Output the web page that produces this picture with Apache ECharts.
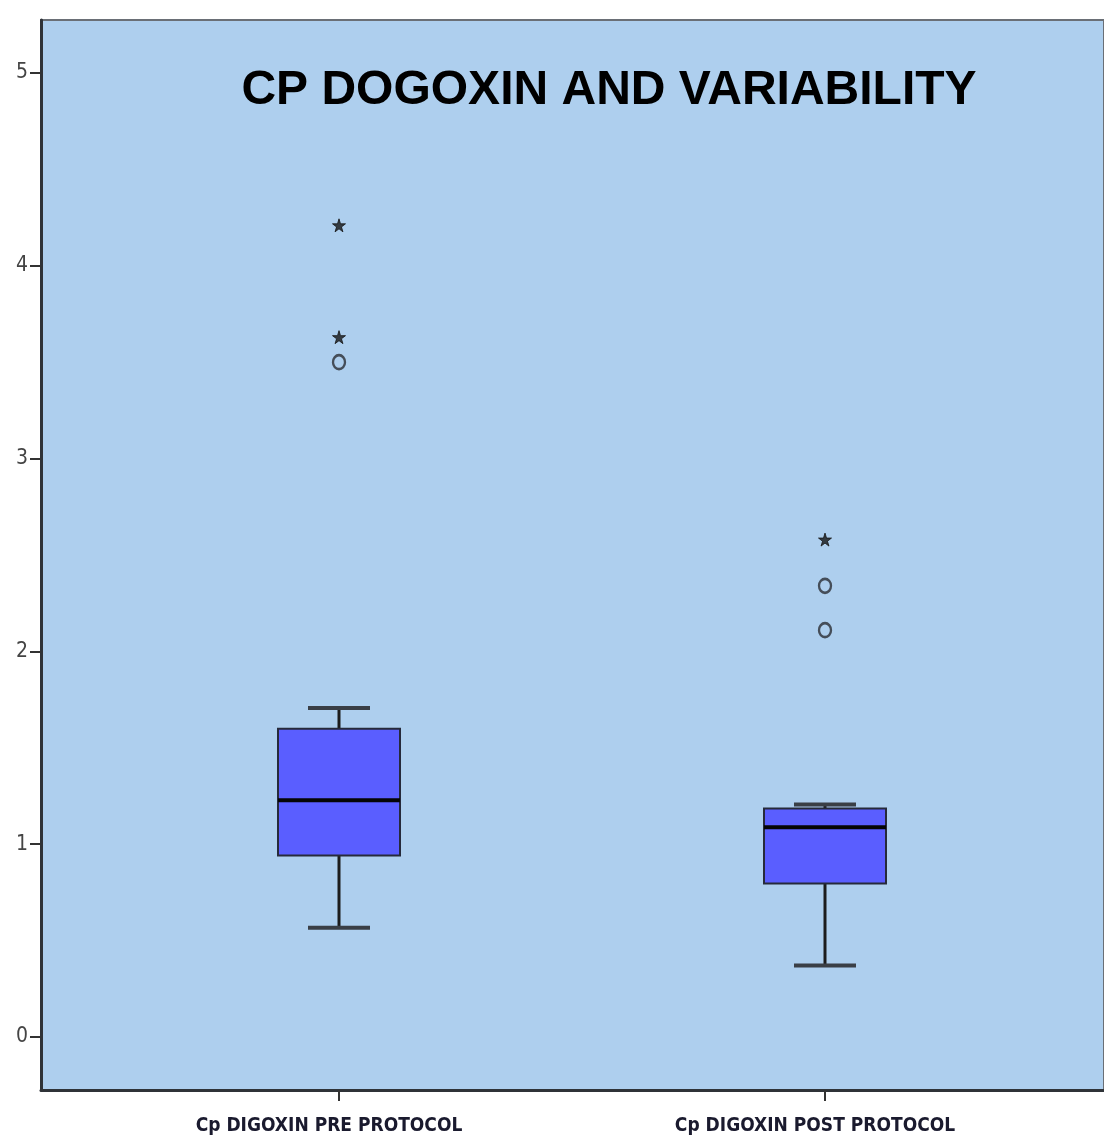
<!DOCTYPE html>
<html>
<head>
<meta charset="utf-8">
<script src="https://cdn.jsdelivr.net/npm/echarts@6/dist/echarts.min.js"></script>
<style>
  html, body { margin: 0; padding: 0; background: #ffffff; }
  #chart { width: 1104px; height: 1144px; }
</style>
</head>
<body>
<div id="chart"></div>
<script>
// ---- data ----
const categories = ['Cp DIGOXIN PRE PROTOCOL', 'Cp DIGOXIN POST PROTOCOL'];
// [min, Q1, median, Q3, max] for each category
const preStats = [0.566, 0.941, 1.228, 1.599, 1.707];
const postStats = [0.371, 0.796, 1.088, 1.185, 1.206];
// extreme outliers (stars): [categoryIndex, value]
const extremeOutliers = [[0, 4.21], [0, 3.63], [1, 2.58]];
// outliers (circles): [categoryIndex, value]
const mildOutliers = [[0, 3.50], [1, 2.34], [1, 2.11]];
const yTickValues = [0, 1, 2, 3, 4, 5];
const titleText = 'CP DOGOXIN AND VARIABILITY';

const boxData = [preStats, postStats].map((s, i) => [i].concat(s));

const yMin = -0.275, yMax = 5.275;
const starPath = 'path://M50,0 L61,35 L98,35 L68,57 L79,91 L50,70 L21,91 L32,57 L2,35 L39,35 Z';
const narrowFont = '"DejaVu Sans Condensed", "Liberation Sans Narrow", "Roboto Condensed", sans-serif';

const chart = echarts.init(document.getElementById('chart'), null, { renderer: 'canvas' });

const option = {
  animation: false,
  backgroundColor: '#ffffff',
  title: {
    text: titleText,
    left: 604,
    textAlign: 'center',
    top: 62,
    textStyle: { fontFamily: 'Liberation Sans', fontWeight: 'bold', fontSize: 48, color: '#000000' }
  },
  grid: [
    { left: 41, top: 20, right: -20, bottom: 54, show: true, backgroundColor: '#aecfee', borderColor: '#6a6f76', borderWidth: 2 },
    { left: 96, top: 20, right: 36, bottom: 54 }
  ],
  xAxis: [
    {
      gridIndex: 0, type: 'value', min: 0, max: 1,
      axisLine: { show: true, onZero: false, lineStyle: { color: '#2f3338', width: 3 } },
      axisTick: { show: false }, axisLabel: { show: false }, splitLine: { show: false }
    },
    {
      gridIndex: 1, type: 'category', data: categories,
      axisLine: { show: false, onZero: false },
      axisTick: { show: true, alignWithLabel: true, length: 11, lineStyle: { color: '#333', width: 2 } },
      axisLabel: { margin: 27, padding: [0, 20, 0, 0], fontFamily: narrowFont, fontWeight: 'bold', fontSize: 19, color: '#1a1a2e' },
      splitLine: { show: false }
    }
  ],
  yAxis: [
    {
      gridIndex: 0, type: 'value', min: yMin, max: yMax,
      axisLine: { show: true, onZero: false, lineStyle: { color: '#2f3338', width: 3 } },
      axisTick: { show: true, customValues: yTickValues, length: 11, lineStyle: { color: '#333', width: 2 } },
      axisLabel: { customValues: yTickValues, margin: 13, fontFamily: narrowFont, fontSize: 21, color: '#444' },
      splitLine: { show: false }
    },
    {
      gridIndex: 1, type: 'value', min: yMin, max: yMax, show: false, splitLine: { show: false }
    }
  ],
  series: [
    {
      type: 'custom',
      xAxisIndex: 1, yAxisIndex: 1,
      data: boxData,
      encode: { x: 0, y: [1, 2, 3, 4, 5] },
      renderItem: function (params, api) {
        const x = api.value(0);
        const pMin = api.coord([x, api.value(1)]);
        const pQ1 = api.coord([x, api.value(2)]);
        const pMed = api.coord([x, api.value(3)]);
        const pQ3 = api.coord([x, api.value(4)]);
        const pMax = api.coord([x, api.value(5)]);
        const cx = pMin[0];
        const half = 61, capHalf = 31;
        const whisker = { stroke: '#1c1c1c', lineWidth: 3 };
        const cap = { stroke: '#3a3f46', lineWidth: 4 };
        return {
          type: 'group',
          children: [
            { type: 'line', shape: { x1: cx, y1: pQ3[1], x2: cx, y2: pMax[1] }, style: whisker },
            { type: 'line', shape: { x1: cx, y1: pQ1[1], x2: cx, y2: pMin[1] }, style: whisker },
            { type: 'line', shape: { x1: cx - capHalf, y1: pMax[1], x2: cx + capHalf, y2: pMax[1] }, style: cap },
            { type: 'line', shape: { x1: cx - capHalf, y1: pMin[1], x2: cx + capHalf, y2: pMin[1] }, style: cap },
            { type: 'rect', shape: { x: cx - half, y: pQ3[1], width: 2 * half, height: pQ1[1] - pQ3[1] },
              style: { fill: '#5a5eff', stroke: '#262a3a', lineWidth: 2 } },
            { type: 'line', shape: { x1: cx - half, y1: pMed[1], x2: cx + half, y2: pMed[1] },
              style: { stroke: '#050505', lineWidth: 4 } }
          ]
        };
      },
      z: 2
    },
    {
      type: 'scatter', xAxisIndex: 1, yAxisIndex: 1,
      data: extremeOutliers,
      symbol: starPath, symbolSize: 13,
      itemStyle: { color: '#151515', borderColor: '#151515', borderWidth: 1 },
      z: 3
    },
    {
      type: 'scatter', xAxisIndex: 1, yAxisIndex: 1,
      data: mildOutliers,
      symbol: 'circle', symbolSize: [12, 14],
      itemStyle: { color: 'rgba(0,0,0,0)', borderColor: '#2a2d33', borderWidth: 2.5 },
      z: 3
    }
  ]
};

chart.setOption(option);
</script>
</body>
</html>
